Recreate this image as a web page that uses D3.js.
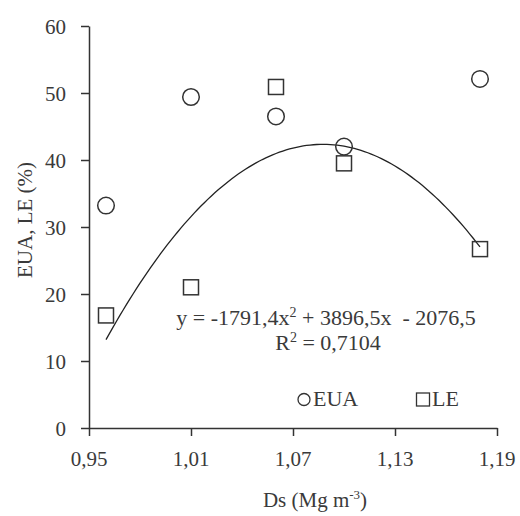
<!DOCTYPE html>
<html>
<head>
<meta charset="utf-8">
<script src="https://cdn.jsdelivr.net/npm/d3@7"></script>
<style>
  html, body { margin: 0; padding: 0; background: #fff; }
  #chart, #chart text, #chart tspan { font-family: "Liberation Serif", "Noto Serif", "DejaVu Serif", serif !important; }
</style>
</head>
<body>
<svg id="chart" width="520" height="516" font-family="Liberation Serif, serif"></svg>
<script>
const dsValues = [0.96, 1.01, 1.06, 1.10, 1.18];
const euaValues = [33.2, 49.4, 46.5, 42.0, 52.1];
const leValues = [16.8, 21.0, 50.9, 39.5, 26.7];
const xTicks = [0.95, 1.01, 1.07, 1.13, 1.19];
const yTicks = [0, 10, 20, 30, 40, 50, 60];
const fitCoef = [-1791.4, 3896.5, -2076.5]; // a x^2 + b x + c
const fitRange = [0.96, 1.18];

const svg = d3.select("#chart");
const x = d3.scaleLinear().domain([0.95, 1.19]).range([89, 497]);
const y = d3.scaleLinear().domain([0, 60]).range([428, 26]);
const ink = "#333";
const txt = "#3a3a3a";

function label(parent, px, py, size, anchor) {
  return parent.append("text").attr("x", px).attr("y", py)
    .attr("font-size", size).attr("font-family", "Liberation Serif, serif")
    .attr("text-anchor", anchor || "start").attr("fill", txt);
}

const fmt = d => d3.format(".2f")(d).replace(".", ",");

const gx = svg.append("g").attr("transform", `translate(0,${y(0)})`)
  .call(d3.axisBottom(x).tickValues(xTicks).tickFormat("").tickSize(8).tickSizeOuter(0));
const gy = svg.append("g").attr("transform", `translate(${x(0.95)},0)`)
  .call(d3.axisLeft(y).tickValues(yTicks).tickFormat("").tickSize(8).tickSizeOuter(0));
[gx, gy].forEach(g => {
  g.attr("font-family", null);
  g.select(".domain").attr("stroke", ink).attr("stroke-width", 1.5);
  g.selectAll(".tick line").attr("stroke", ink).attr("stroke-width", 1.5);
  g.selectAll(".tick text").remove();
});
xTicks.forEach(v => label(svg, x(v), y(0) + 38, 21, "middle").text(fmt(v)));
yTicks.forEach(v => label(svg, x(0.95) - 23, y(v) + 7.5, 21, "end").text(String(v)));

const curvePts = d3.range(fitRange[0], fitRange[1] + 1e-9, 0.002).map(v => [v, fitCoef[0]*v*v + fitCoef[1]*v + fitCoef[2]]);
svg.append("path")
  .attr("d", d3.line().x(d => x(d[0])).y(d => y(d[1]))(curvePts))
  .attr("fill", "none").attr("stroke", "#222").attr("stroke-width", 1.3);

svg.append("g").selectAll("circle").data(dsValues.map((d, i) => [d, euaValues[i]]))
  .join("circle")
  .attr("cx", d => x(d[0])).attr("cy", d => y(d[1])).attr("r", 8.3)
  .attr("fill", "none").attr("stroke", ink).attr("stroke-width", 1.5);

const s = 15;
svg.append("g").selectAll("rect").data(dsValues.map((d, i) => [d, leValues[i]]))
  .join("rect")
  .attr("x", d => x(d[0]) - s/2).attr("y", d => y(d[1]) - s/2)
  .attr("width", s).attr("height", s)
  .attr("fill", "none").attr("stroke", ink).attr("stroke-width", 1.5);

const eq = label(svg, 326, 325, 22, "middle");
eq.append("tspan").text("y = -1791,4x");
eq.append("tspan").attr("dy", -8).attr("font-size", 14).text("2");
eq.append("tspan").attr("dy", 8).text(" + 3896,5x \u00a0- 2076,5");
const r2 = label(svg, 328, 350, 22, "middle");
r2.append("tspan").text("R");
r2.append("tspan").attr("dy", -8).attr("font-size", 14).text("2");
r2.append("tspan").attr("dy", 8).text(" = 0,7104");

svg.append("circle").attr("cx", 304).attr("cy", 399.5).attr("r", 6)
  .attr("fill", "none").attr("stroke", ink).attr("stroke-width", 1.3);
label(svg, 313, 406, 22).text("EUA");
svg.append("rect").attr("x", 416.5).attr("y", 393).attr("width", 13).attr("height", 13)
  .attr("fill", "none").attr("stroke", ink).attr("stroke-width", 1.3);
label(svg, 432, 406, 22).text("LE");

const xt = label(svg, 315, 507, 21, "middle");
xt.append("tspan").text("Ds (Mg m");
xt.append("tspan").attr("dy", -8).attr("font-size", 13).text("-3");
xt.append("tspan").attr("dy", 8).text(")");

label(svg, 0, 0, 21, "middle").attr("transform", "translate(32,220) rotate(-90)").text("EUA, LE (%)");
</script>
</body>
</html>
